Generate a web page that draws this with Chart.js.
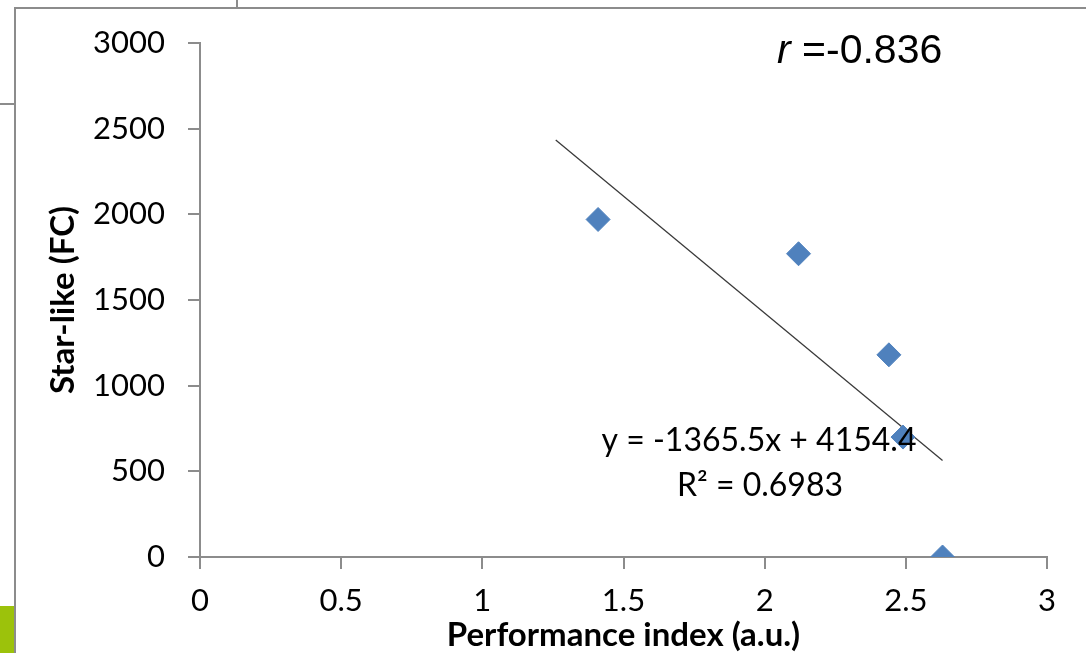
<!DOCTYPE html>
<html>
<head>
<meta charset="utf-8">
<script src="https://cdn.jsdelivr.net/npm/chart.js@4/dist/chart.umd.min.js"></script>
<style>
    html, body { margin: 0; padding: 0; background: #fff; }
    .wrap { position: relative; width: 1086px; height: 653px; overflow: hidden; }
    .wrap canvas { position: absolute; left: 0; top: 0; }
    .line { position: absolute; background: #8c8c8c; z-index: 2; }
    .green { position: absolute; left: 0; top: 606px; width: 14px; height: 47px; background: #9cc20b; z-index: 2; }
</style>
</head>
<body>
<div class="wrap">
    <canvas id="scatterChart" width="1086" height="653"></canvas>
    <div class="line" style="left:14px; top:7px; width:2px; height:646px;"></div>
    <div class="line" style="left:14px; top:7px; width:1072px; height:2px;"></div>
    <div class="line" style="left:236px; top:0; width:2px; height:8px;"></div>
    <div class="line" style="left:0; top:103px; width:15px; height:2px;"></div>
    <div class="green"></div>
</div>
<script>
// measured points
const perfIndex = [1.41, 2.12, 2.44, 2.49, 2.63];
const starLike = [1970, 1770, 1180, 700, 0];

// linear trendline end points (as drawn)
const trendX = [1.26, 2.63];
const trendY = [2434, 563];

const xTicks = [0, 0.5, 1, 1.5, 2, 2.5, 3];
const yTicks = [0, 500, 1000, 1500, 2000, 2500, 3000];

const equationText = 'y = -1365.5x + 4154.4';
const r2Text = 'R² = 0.6983';
const rText = '=-0.836';

const axisGray = '#8c8c8c';
const tickFont = { family: 'Lato, "Open Sans", sans-serif', size: 31 };
const titleFont = { family: 'Lato, "Open Sans", sans-serif', size: 33, weight: 'bold' };

const notes = {
    id: 'notes',
    afterDraw(chart) {
        const ctx = chart.ctx;
        ctx.save();
        ctx.fillStyle = '#000';
        ctx.textBaseline = 'middle';
        ctx.textAlign = 'center';
        ctx.font = '32px Lato, "Open Sans", sans-serif';
        ctx.fillText(equationText, 759, 441);
        ctx.fillText(r2Text, 760, 486);

        ctx.textAlign = 'left';
        ctx.textBaseline = 'alphabetic';
        ctx.font = 'italic 41px "Liberation Sans", Arial, sans-serif';
        ctx.fillText('r', 777, 63);
        const rw = ctx.measureText('r ').width;
        ctx.font = '41px "Liberation Sans", Arial, sans-serif';
        ctx.fillText(rText, 777 + rw, 63);
        ctx.restore();
    },
};

new Chart(document.getElementById('scatterChart'), {
    type: 'scatter',
    data: {
        datasets: [
            {
                label: 'Star-like',
                data: perfIndex.map((x, i) => ({ x, y: starLike[i] })),
                pointStyle: 'rectRot',
                pointRadius: 12,
                pointBorderWidth: 1,
                backgroundColor: '#4f81bd',
                borderColor: '#4f81bd',
                order: 1,
            },
            {
                label: 'Trend',
                type: 'line',
                data: trendX.map((x, i) => ({ x, y: trendY[i] })),
                borderColor: '#3a3a3a',
                borderWidth: 1.3,
                pointRadius: 0,
                fill: false,
                order: 2,
            },
        ],
    },
    options: {
        responsive: false,
        animation: false,
        layout: {
            padding: { top: 43, right: 39, left: 0, bottom: 0 },
        },
        plugins: {
            legend: { display: false },
            tooltip: { enabled: false },
        },
        scales: {
            x: {
                type: 'linear',
                min: 0,
                max: 3,
                afterBuildTicks(scale) {
                    scale.ticks = xTicks.map((v) => ({ value: v }));
                },
                afterFit(scale) {
                    scale.height = 96;
                },
                grid: {
                    drawOnChartArea: false,
                    tickLength: 12,
                    color: axisGray,
                    lineWidth: 2,
                },
                border: { color: axisGray, width: 2 },
                ticks: {
                    color: '#000',
                    font: tickFont,
                    padding: 13,
                    maxRotation: 0,
                    callback(value) {
                        return String(value);
                    },
                },
                title: {
                    display: true,
                    text: 'Performance index (a.u.)',
                    color: '#000',
                    font: titleFont,
                    padding: { top: 0, bottom: -2 },
                },
            },
            y: {
                min: 0,
                max: 3000,
                afterBuildTicks(scale) {
                    scale.ticks = yTicks.map((v) => ({ value: v }));
                },
                afterFit(scale) {
                    scale.width = 200;
                },
                grid: {
                    drawOnChartArea: false,
                    tickLength: 12,
                    color: axisGray,
                    lineWidth: 2,
                },
                border: { color: axisGray, width: 2 },
                ticks: {
                    color: '#000',
                    font: tickFont,
                    padding: 23,
                    callback(value) {
                        return String(value);
                    },
                },
                title: {
                    display: true,
                    text: 'Star-like (FC)',
                    color: '#000',
                    font: titleFont,
                    padding: { top: 44, bottom: 0 },
                },
            },
        },
    },
    plugins: [notes],
});
</script>
</body>
</html>
